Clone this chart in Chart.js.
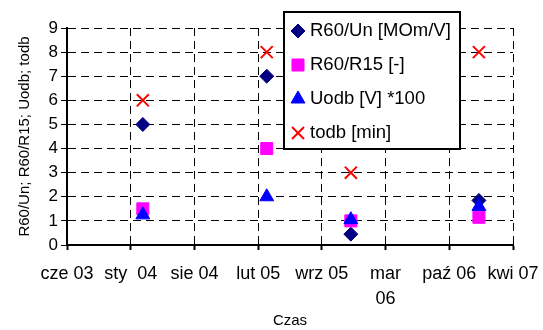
<!DOCTYPE html>
<html>
<head>
<meta charset="utf-8">
<title>R60/Un; R60/R15; Uodb; todb</title>
<script src="https://cdn.jsdelivr.net/npm/chart.js@4/dist/chart.umd.min.js"></script>
<style>
  html, body { margin: 0; padding: 0; background: #fff; }
  #wrap { width: 543px; height: 330px; }
</style>
</head>
<body>
<div id="wrap"><canvas id="chart" width="543" height="330"></canvas></div>
<script>
// measurement dates and readings
const measureDates = ['2004-02-22', '2005-03-17', '2005-12-06', '2007-01-12'];
const r60Un  = [5, 7, 0.45, 1.85];
const r60R15 = [1.5, 4, 1.0, 1.15];
const uodb   = [1.25, 2, 1.05, 1.6];
const todb   = [6, 8, 3, 8];

const seriesLabels = ['R60/Un [MOm/V]', 'R60/R15 [-]', 'Uodb [V] *100', 'todb [min]'];

// time axis: first tick and spacing (days)
const axisStart = '2003-06-29';
const axisStepDays = 200;
const xTickLabels = ['cze 03', 'sty  04', 'sie 04', 'lut 05', 'wrz 05', ['mar', '06'], 'paź 06', 'kwi 07'];
const yMin = 0, yMax = 9, yStep = 1;

const FONT = '"Liberation Sans", Arial, sans-serif';

function dayNum(s) {
    const [y, m, d] = s.split('-').map(Number);
    return Date.UTC(y, m - 1, d) / 86400000;
}

const x0 = dayNum(axisStart);
const xTicks = xTickLabels.map((_, i) => x0 + i * axisStepDays);

function points(values) {
    return values.map((v, i) => ({ x: dayNum(measureDates[i]), y: v }));
}

// legend box drawn over the plot area
const boxLegend = {
    id: 'boxLegend',
    afterDraw(chart) {
        const ctx = chart.ctx;
        const bx = 284, by = 12, bw = 176, bh = 137;
        ctx.save();
        ctx.fillStyle = '#fff';
        ctx.fillRect(bx, by, bw, bh);
        ctx.lineWidth = 2;
        ctx.strokeStyle = '#000';
        ctx.strokeRect(bx, by, bw, bh);
        chart.data.datasets.forEach((ds, i) => {
            const y = by + 19 + i * 34;
            ctx.fillStyle = ds.backgroundColor;
            ctx.strokeStyle = ds.borderColor;
            ctx.lineWidth = ds.borderWidth;
            Chart.helpers.drawPoint(ctx, {
                pointStyle: ds.pointStyle,
                radius: ds.pointRadius,
                borderWidth: ds.borderWidth,
                rotation: 0
            }, bx + 14, y);
            ctx.fillStyle = '#000';
            ctx.font = '18.5px ' + FONT;
            ctx.textBaseline = 'middle';
            ctx.textAlign = 'left';
            ctx.fillText(ds.label, bx + 26, y);
        });
        ctx.restore();
    }
};

const datasets = [
    { label: seriesLabels[0], data: points(r60Un), pointStyle: 'rectRot', pointRadius: 7,
      backgroundColor: '#000080', borderColor: '#000080', borderWidth: 1, order: 4 },
    { label: seriesLabels[1], data: points(r60R15), pointStyle: 'rect', pointRadius: 8.5,
      backgroundColor: '#ff00ff', borderColor: '#ff00ff', borderWidth: 1, order: 3 },
    { label: seriesLabels[2], data: points(uodb), pointStyle: 'triangle', pointRadius: 8,
      backgroundColor: '#0000ff', borderColor: '#0000ff', borderWidth: 1, order: 2 },
    { label: seriesLabels[3], data: points(todb), pointStyle: 'crossRot', pointRadius: 8.5,
      backgroundColor: '#ff0000', borderColor: '#ff0000', borderWidth: 2, order: 1 }
];

new Chart(document.getElementById('chart'), {
    type: 'scatter',
    data: { datasets },
    plugins: [boxLegend],
    options: {
        responsive: false,
        animation: false,
        events: [],
        layout: { padding: { top: 28, right: 30, left: 0, bottom: 0 } },
        plugins: { legend: { display: false }, tooltip: { enabled: false } },
        scales: {
            x: {
                type: 'linear',
                min: xTicks[0],
                max: xTicks[xTicks.length - 1],
                afterBuildTicks: scale => { scale.ticks = xTicks.map(v => ({ value: v })); },
                // fixed band below the plot; end labels may hang past the plot edges
                afterFit: scale => {
                    scale.height = 85;
                    scale.paddingLeft = 0;
                    scale.paddingRight = 0;
                },
                ticks: {
                    autoSkip: false,
                    maxRotation: 0,
                    padding: 11,
                    color: '#000',
                    font: { family: FONT, size: 18, lineHeight: 1.4 },
                    callback: (v, i) => xTickLabels[i]
                },
                grid: { color: '#000', lineWidth: 1, tickLength: 5, tickColor: '#000', tickWidth: 2 },
                border: { display: true, color: '#000', width: 2, dash: [8, 5] },
                title: {
                    display: true, text: 'Czas', color: '#000',
                    font: { family: FONT, size: 15 }, padding: { top: 0, bottom: 0 }
                }
            },
            y: {
                min: yMin,
                max: yMax,
                afterFit: scale => { scale.width = 67; },
                ticks: {
                    stepSize: yStep,
                    padding: 3,
                    color: '#000',
                    font: { family: FONT, size: 17 }
                },
                grid: { color: '#000', lineWidth: 1, tickLength: 6, tickColor: '#000' },
                border: { display: true, color: '#000', width: 2, dash: [8, 5] },
                title: {
                    display: true, text: 'R60/Un; R60/R15; Uodb; todb', color: '#000',
                    font: { family: FONT, size: 15 }, padding: { top: 16, bottom: 0 }
                }
            }
        }
    }
});
</script>
</body>
</html>
